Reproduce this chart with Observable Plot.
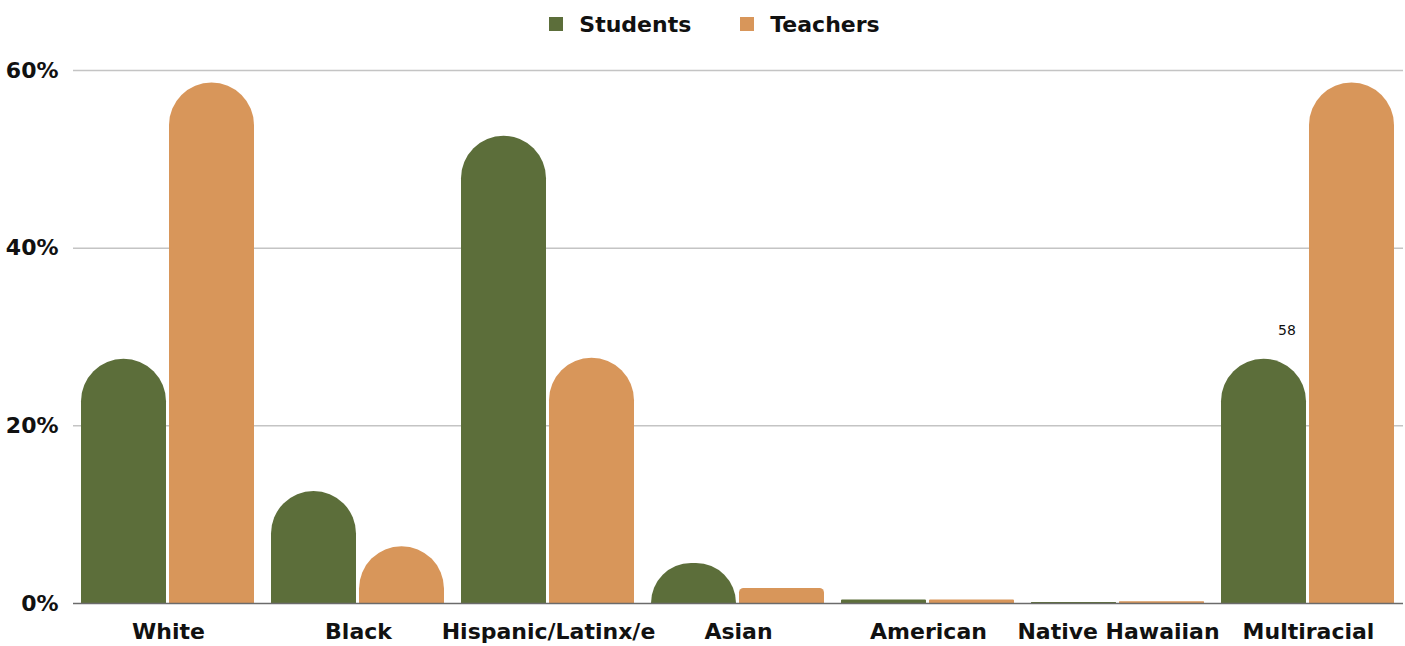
<!DOCTYPE html>
<html><head><meta charset="utf-8">
<script src="https://cdn.jsdelivr.net/npm/d3@7"></script>
<script src="https://cdn.jsdelivr.net/npm/@observablehq/plot@0.6"></script>
<style>
body{margin:0;background:#fff;font-family:"DejaVu Sans", sans-serif;}
#legend{height:48px;display:flex;justify-content:center;align-items:center;gap:49px;font-weight:700;font-size:22px;padding-left:24px;box-sizing:border-box;color:#111}
.item{display:flex;align-items:center;gap:16px}
.sw{width:14px;height:14px;display:inline-block}
</style></head><body>
<div id="legend"></div><div id="chart"></div>
<script>
const categories = ["White","Black","Hispanic/Latinx/e","Asian","American","Native Hawaiian","Multiracial"];
const series = ["Students","Teachers"];
const students = [27.5, 12.6, 52.6, 4.5, 0.4, 0.1, 27.5];
const teachers = [58.6, 6.4, 27.6, 1.7, 0.4, 0.2, 58.6];
const colors = ["#5c6e3a","#d8965a"];
const yTicks = [0, 20, 40, 60];
const annotations = [{category:"Multiracial", series:"Students", text:"58"}];

const rows = categories.flatMap((c, i) => [
  {category: c, series: "Students", value: students[i]},
  {category: c, series: "Teachers", value: teachers[i]}
]);
const valueOf = (c, s) => rows.find(r => r.category === c && r.series === s).value;

const legend = document.getElementById("legend");
series.forEach((s, i) => {
  const it = document.createElement("div");
  it.className = "item";
  it.innerHTML = `<span class="sw" style="background:${colors[i]}"></span><span>${s}</span>`;
  legend.appendChild(it);
});

const plot = Plot.plot({
  width: 1405, height: 598,
  marginLeft: 70, marginRight: 0, marginTop: 22, marginBottom: 43,
  style: {fontFamily: "'DejaVu Sans', sans-serif", fontSize: "22px", fontWeight: 700, color: "#111", background: "#fff"},
  fx: {domain: categories, padding: 0, label: null, axis: "bottom", tickSize: 0, tickPadding: 20},
  x: {domain: series, axis: null, paddingInner: 0.034, paddingOuter: 0.09},
  y: {domain: [0, 60], ticks: yTicks, tickFormat: d => d + "%", label: null, tickSize: 0, tickPadding: 15},
  color: {domain: series, range: colors},
  marks: [
    Plot.ruleY(yTicks.filter(d => d > 0), {stroke: "#c4c4c4", strokeWidth: 1.5}),
    Plot.barY(rows, {fx: "category", x: "series", y: "value", fill: "series"}),
    Plot.ruleY([0], {stroke: "#6b6b6b", strokeWidth: 1.5}),
    Plot.text(annotations, {fx: "category", x: "series", y: d => valueOf(d.category, d.series), text: "text", dy: -29, dx: 23, fontSize: 14, fontWeight: 400, fill: "#111"})
  ]
});

// round the bar tops
d3.select(plot).selectAll('g[aria-label="bar"] rect').each(function() {
  const x = +this.getAttribute("x"), y = +this.getAttribute("y");
  const w = +this.getAttribute("width"), h = +this.getAttribute("height");
  const r = h >= 30 ? Math.min(w / 2, h) : h * 0.3;
  const p = document.createElementNS("http://www.w3.org/2000/svg", "path");
  for (const a of this.attributes) if (!["x","y","width","height"].includes(a.name)) p.setAttribute(a.name, a.value);
  p.setAttribute("d", `M${x},${y + h}V${y + r}A${r},${r} 0 0 1 ${x + r},${y}H${x + w - r}A${r},${r} 0 0 1 ${x + w},${y + r}V${y + h}Z`);
  this.replaceWith(p);
});

document.getElementById("chart").appendChild(plot);
</script></body></html>
